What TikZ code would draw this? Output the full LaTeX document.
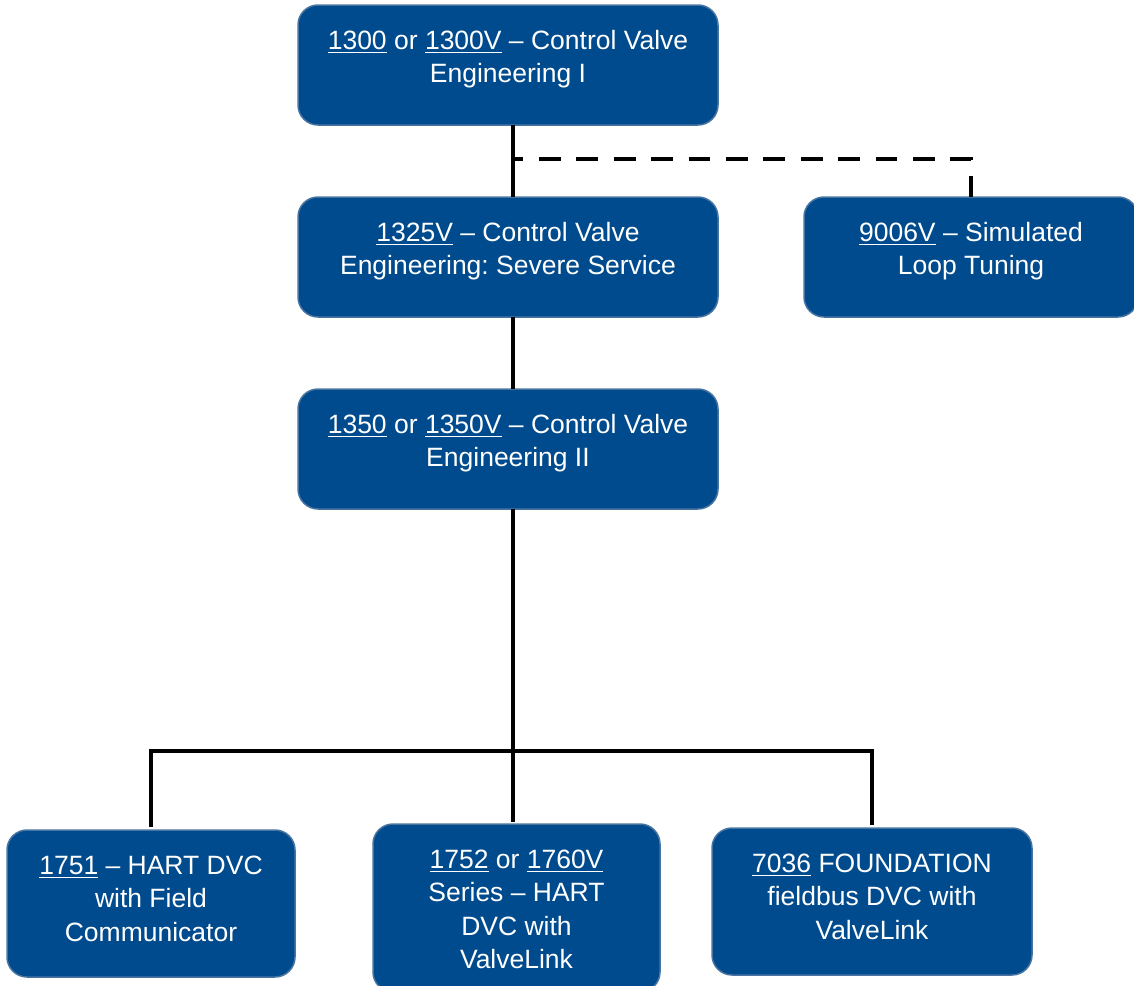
\documentclass[tikz,border=0pt]{standalone}
\usepackage{fontspec}
\setmainfont{Liberation Sans}
\usetikzlibrary{positioning}

\definecolor{boxfill}{RGB}{0,75,141}
\definecolor{boxedge}{RGB}{72,116,162}

\newcommand{\code}[1]{\setbox0\hbox{#1}\rlap{\rule[-4pt]{\wd0}{1.5pt}}\box0\relax}
\newcommand{\boxtext}[3]{\parbox[c][#2][t]{#1}{\centering\frenchspacing\rule{0pt}{44pt}#3}}

\begin{document}
\begin{tikzpicture}[
  x=1pt, y=-1pt,
  boxstyle/.style={
        draw=boxedge,
        line width=1.5pt,
        fill=boxfill,
        rounded corners=20pt,
        text=white,
        inner sep=0pt,
        outer sep=0pt,
        font=\fontsize{26.5}{33.5}\selectfont
  },
  linkstyle/.style={line width=4.5pt},
  dashstyle/.style={linkstyle, dash pattern=on 21.7pt off 15.7pt, dash phase=11.4pt}
]

    \useasboundingbox (0,0) rectangle (1134,985);

    \coordinate (tap) at (513,159);
    \coordinate (split) at (513,751);

    \node[boxstyle] (C1300) at (508,65) {\boxtext{420pt}{120pt}{\code{1300} or \code{1300V} – Control Valve\\Engineering I}};
    \node[boxstyle, below=72pt of C1300] (C1325) {\boxtext{420pt}{120pt}{\code{1325V} – Control Valve\\Engineering: Severe Service}};
    \node[boxstyle, below=72pt of C1325] (C1350) {\boxtext{420pt}{120pt}{\code{1350} or \code{1350V} – Control Valve\\Engineering II}};
    \node[boxstyle, right=86pt of C1325] (C9006) {\boxtext{334pt}{120pt}{\code{9006V} – Simulated\\Loop Tuning}};

    \node[boxstyle] (C1751) at (151,903.5) {\boxtext{288pt}{147pt}{\code{1751} – HART DVC\\with Field\\Communicator}};
    \node[boxstyle] (C1752) at (516.5,908) {\boxtext{287pt}{168pt}{\code{1752} or \code{1760V}\\Series – HART\\DVC with\\ValveLink}};
    \node[boxstyle] (C7036) at (872,901.5) {\boxtext{320pt}{147pt}{\code{7036} FOUNDATION\\fieldbus DVC with\\ValveLink}};

    \draw[linkstyle] (C1300.south -| split) -- (C1325.north -| split);
    \draw[linkstyle] (C1325.south -| split) -- (C1350.north -| split);
    \draw[linkstyle] (C1350.south -| split) -- (split);
    \draw[dashstyle] (tap) -| (C9006.north);
    \draw[linkstyle, shorten >=3pt] (split) -| (C1751.north);
    \draw[linkstyle, shorten >=2pt] (split) -- (C1752.north -| split);
    \draw[linkstyle, shorten >=3pt] (split) -| (C7036.north);
\end{tikzpicture}
\end{document}
